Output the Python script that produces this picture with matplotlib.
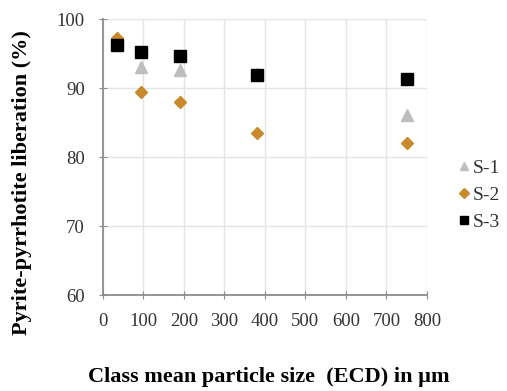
import matplotlib
matplotlib.use("Agg")
import matplotlib.pyplot as plt

plt.rcParams['font.family'] = ['Liberation Serif', 'DejaVu Serif']

# Data
x_s1 = [35, 95, 190, 380, 750]
y_s1 = [97.0, 93.1, 92.7, 92.0, 86.1]
x_s2 = [35, 95, 190, 380, 750]
y_s2 = [97.2, 89.5, 88.0, 83.5, 82.1]
x_s3 = [35, 95, 190, 380, 750]
y_s3 = [96.3, 95.3, 94.6, 91.9, 91.3]
labels = ["S-1", "S-2", "S-3"]
xticks = [0, 100, 200, 300, 400, 500, 600, 700, 800]
yticks = [60, 70, 80, 90, 100]

fig = plt.figure(figsize=(5.07, 3.91), dpi=100)
ax = fig.add_axes([0.203, 0.2455, 0.639, 0.7055])

ax.plot(x_s1, y_s1, linestyle='none', marker='^', color='#BEBEBE', markersize=8, label=labels[0], zorder=3)
ax.plot(x_s2, y_s2, linestyle='none', marker='D', color='#C98A2B', markersize=6.5, label=labels[1], zorder=3)
ax.plot(x_s3, y_s3, linestyle='none', marker='s', color='black', markersize=8, label=labels[2], zorder=4)

ax.set_xlim(0, 800)
ax.set_ylim(60, 100)
ax.set_xticks(xticks)
ax.set_yticks(yticks)
ax.grid(True, color='#E4E4E4', linewidth=1)
ax.set_axisbelow(True)
for s in ['top', 'right']:
    ax.spines[s].set_visible(False)
for s in ['left', 'bottom']:
    ax.spines[s].set_color('#8C8C8C')
    ax.spines[s].set_linewidth(1.3)
ax.tick_params(direction='inout', length=6, color='#8C8C8C', labelsize=13.5, labelcolor='#333333')
ax.tick_params(axis='y', pad=10)
ax.tick_params(axis='x', pad=10)

xl = ax.set_xlabel('Class mean particle size  (ECD) in µm', fontsize=16, fontweight='bold')
ax.xaxis.set_label_coords(0.512, -0.297)
xl.set_va('center')
yl = ax.set_ylabel('Pyrite-pyrrhotite liberation (%)', fontsize=16, fontweight='bold')
ax.yaxis.set_label_coords(-0.25, 0.406)
yl.set_va('center')

leg = ax.legend(loc='center left', bbox_to_anchor=(1.075, 0.362), frameon=False, fontsize=14,
                handlelength=0.5, handletextpad=0.2, labelspacing=0.5, borderaxespad=0,
                markerscale=0.8)
for t in leg.get_texts():
    t.set_color('#333333')

fig.savefig('out.png', dpi=100)
